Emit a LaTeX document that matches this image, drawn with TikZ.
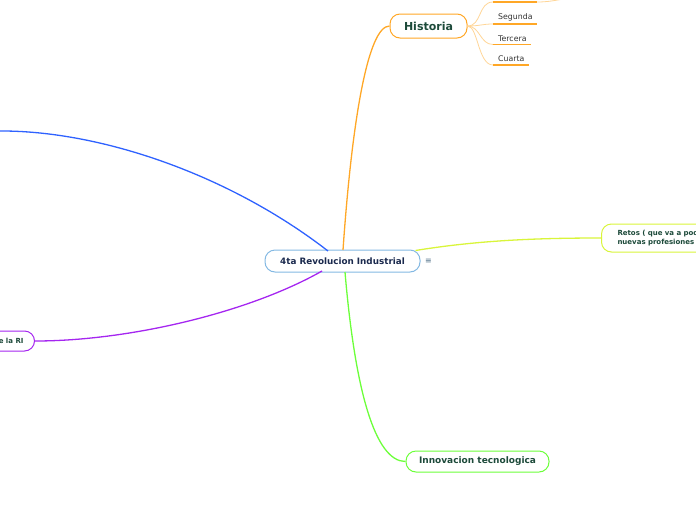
\documentclass[tikz,border=0pt]{standalone}
\usepackage{fontspec}
\setmainfont{DejaVu Sans}
\usetikzlibrary{positioning}
\definecolor{rootblue}{HTML}{84B9E3}
\definecolor{rootink}{HTML}{1B2A4E}
\definecolor{topicink}{HTML}{1D4A3A}
\definecolor{historange}{HTML}{FFA726}
\definecolor{histlight}{HTML}{FFD596}
\definecolor{retosyellow}{HTML}{D9F53A}
\definecolor{innovgreen}{HTML}{6CFF3A}
\definecolor{causapurple}{HTML}{A526F0}
\definecolor{linkblue}{HTML}{2F62FF}

\begin{document}
\begin{tikzpicture}[x=1pt, y=-1pt,
    topic/.style={rectangle, rounded corners=10pt, draw, fill=white, line width=1pt,
        font=\bfseries, text=topicink, inner sep=0pt},
    sub/.style={font=\fontsize{7.8}{9}\selectfont, text=black!80, anchor=south west,
        inner xsep=5pt, inner ysep=3pt},
    link/.style={line width=1.3pt},
    twig/.style={histlight, line width=0.8pt},
    underline/.style={historange, line width=1.4pt}
]
    \useasboundingbox (0,0) rectangle (696,520);
    \clip (0,0) rectangle (696,520);

    % central topic
    \node[topic, draw=rootblue, text=rootink, minimum width=155pt, minimum height=22pt,
        font=\bfseries\fontsize{8.8}{10}\selectfont] (root) at (342.5,261) {4ta Revolucion Industrial};
    \node[text=rootblue!60!black, font=\fontsize{8}{9}\selectfont, right=1pt of root] (menu) {≡};

    % main topics
    \node[topic, draw=historange, minimum width=77pt, minimum height=24pt,
        font=\bfseries\fontsize{11}{12}\selectfont] (hist) at (428.5,26) {Historia};
    \node[topic, draw=retosyellow, anchor=west, minimum height=28pt, align=left,
        text width=110pt, inner xsep=16pt, font=\bfseries\fontsize{7}{8.5}\selectfont]
        (retos) at (601,238) {Retos ( que va a pod\\nuevas profesiones};
    \node[topic, draw=innovgreen, minimum width=143pt, minimum height=21pt,
        font=\bfseries\fontsize{9}{10}\selectfont] (innov) at (477.5,461.5) {Innovacion tecnologica};
    \node[topic, draw=causapurple, anchor=east, minimum height=20pt, inner xsep=11pt,
        font=\bfseries\fontsize{7}{8}\selectfont] (causa) at (35,341) {de la RI};
    \coordinate (lejos) at (-2,131);

    % links from the centre
    \draw[link, linkblue] (328,251) .. controls (230,175) and (100,130) .. (lejos);
    \draw[link, causapurple] (322,271) .. controls (250,312) and (130,341) .. (causa.east);
    \draw[link, historange] (343,250) .. controls (352,120) and (368,26) .. (hist.west);
    \draw[link, retosyellow] (root.north east) ++(-5,1) .. controls (480,240) and (540,238) .. (retos.west);
    \draw[link, innovgreen] (345,272) .. controls (355,390) and (375,461.5) .. (innov.west);

    % Historia subtopics
    \coordinate (prim) at (493,2);
    \coordinate (primfin) at (537,2);
    \coordinate (primhijo) at (585,-3);
    \node[sub] (seg) at (493,24) {Segunda};
    \node[sub] (ter) at (493,44.5) {Tercera};
    \node[sub] (cua) at (493,65) {Cuarta};

    \draw[twig] (primfin) .. controls (555,2) and (560,-2) .. (primhijo);
    \draw[twig] (hist.east) .. controls (482,26) and (478,2) .. (prim);
    \draw[twig] (hist.east) .. controls (480,26) and (482,24) .. (seg.south west);
    \draw[twig] (hist.east) .. controls (480,26) and (480,44.5) .. (ter.south west);
    \draw[twig] (hist.east) .. controls (478,26) and (478,65) .. (cua.south west);

    \draw[underline] (prim) -- (primfin);
    \draw[underline] (seg.south west) -- ([xshift=-1pt]seg.south east);
    \draw[underline] (ter.south west) -- ([xshift=-1pt]ter.south east);
    \draw[underline] (cua.south west) -- ([xshift=-1pt]cua.south east);
\end{tikzpicture}
\end{document}
